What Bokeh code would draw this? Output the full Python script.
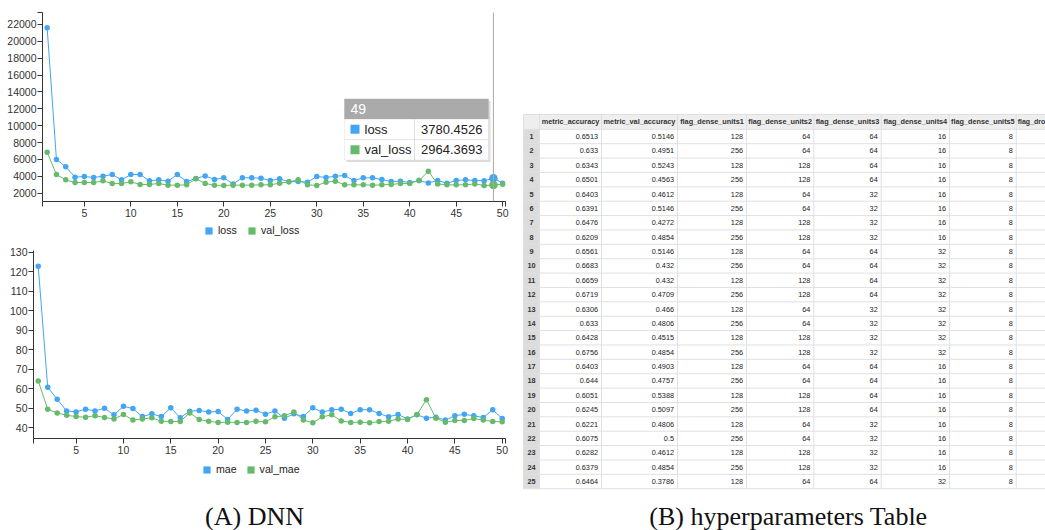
from bokeh.plotting import figure
from bokeh.models import (Range1d, FixedTicker, Legend, LegendItem, Span,
                          BoxAnnotation, Label)
from bokeh.layouts import row, column
from bokeh.embed import file_html
from bokeh.resources import INLINE
from bokeh.core.properties import value

# ---------------- data ----------------
epochs = list(range(1, 51))
loss = [21600, 6000, 5120, 3900, 3975, 3860, 4010, 4210, 3580, 4210,
        4210, 3460, 3580, 3420, 4210, 3380, 3740, 4050, 3620, 3820,
        3100, 3820, 3820, 3780, 3500, 3700, 3350, 3380, 3300, 3975,
        3860, 4010, 4090, 3500, 3820, 3820, 3620, 3380, 3420, 3260,
        3500, 3220, 3500, 3180, 3500, 3580, 3500, 3460, 3780.4526, 3180]
val_loss = [6860, 4210, 3580, 3260, 3260, 3260, 3460, 3150, 3150, 3340,
            3030, 3030, 3150, 2950, 2950, 2990, 3700, 3150, 2950, 2910,
            2950, 2950, 2950, 2990, 2990, 3180, 3340, 3580, 2990, 2910,
            3300, 3420, 2990, 2990, 2990, 2950, 2990, 3030, 3150, 3150,
            3500, 4600, 3100, 2990, 2990, 2990, 3100, 2910, 2964.3693, 3070]
mae = [122.8, 60.7, 54.5, 48.5, 48.0, 49.4, 48.5, 49.9, 46.5, 50.9,
       49.7, 45.6, 47.0, 45.6, 50.1, 45.0, 48.4, 48.7, 48.0, 48.2,
       44.1, 49.4, 48.5, 48.9, 46.8, 48.5, 44.8, 47.0, 45.6, 50.1,
       47.9, 49.1, 49.4, 47.2, 49.1, 49.1, 47.2, 45.5, 46.7, 44.4,
       46.5, 44.8, 45.3, 43.8, 46.0, 46.8, 46.0, 45.1, 49.1, 44.6]
val_mae = [63.9, 49.4, 47.5, 46.3, 45.6, 45.3, 46.1, 45.1, 44.4, 46.7,
           43.9, 44.4, 45.0, 43.2, 43.1, 43.1, 47.5, 44.1, 43.2, 42.6,
           42.7, 42.6, 42.6, 43.2, 42.9, 45.5, 46.0, 47.9, 43.9, 42.4,
           45.5, 46.5, 43.4, 42.6, 42.7, 42.4, 43.1, 43.2, 44.4, 44.1,
           46.7, 54.2, 44.8, 42.7, 43.6, 43.6, 44.6, 43.8, 43.1, 42.9]
loss_ticks = list(range(2000, 22001, 2000))
mae_ticks = list(range(40, 131, 10))
epoch_ticks = list(range(5, 51, 5))
focus_epoch = 49

table_columns = ["metric_accuracy", "metric_val_accuracy", "flag_dense_units1",
                 "flag_dense_units2", "flag_dense_units3", "flag_dense_units4",
                 "flag_dense_units5", "flag_dro"]
row_ids = list(range(1, 26))
metric_accuracy = [0.6513, 0.633, 0.6343, 0.6501, 0.6403, 0.6391, 0.6476, 0.6209,
                   0.6561, 0.6683, 0.6659, 0.6719, 0.6306, 0.633, 0.6428, 0.6756,
                   0.6403, 0.644, 0.6051, 0.6245, 0.6221, 0.6075, 0.6282, 0.6379,
                   0.6464]
metric_val_accuracy = [0.5146, 0.4951, 0.5243, 0.4563, 0.4612, 0.5146, 0.4272, 0.4854,
                       0.5146, 0.432, 0.432, 0.4709, 0.466, 0.4806, 0.4515, 0.4854,
                       0.4903, 0.4757, 0.5388, 0.5097, 0.4806, 0.5, 0.4612, 0.4854,
                       0.3786]
flag_dense_units1 = [128, 256] * 12 + [128]
flag_dense_units2 = [64, 64, 128, 128] * 6 + [64]
flag_dense_units3 = [64, 64, 64, 64, 32, 32, 32, 32] * 3 + [64]
flag_dense_units4 = [16] * 8 + [32] * 8 + [16] * 8 + [32]
flag_dense_units5 = [8] * 25

# ---------------- styles ----------------
BLUE = "#42a5f5"
GREEN = "#66bb6a"
SANS = "Liberation Sans"
SERIF = "Liberation Serif"
TICK_FS = "10.5px"
W_LEFT = 518


def no_align(p):
    try:
        p.frame_align = False
    except Exception:
        pass
    return p


def style_axes(p, xticks, yticks, xr, yr_top=None):
    p.xaxis.ticker = FixedTicker(ticks=[xr[0]] + xticks + [xr[1]])
    p.xaxis.major_label_overrides = {xr[0]: "", xr[1]: ""}
    yt = list(yticks)
    if yr_top is not None:
        yt = yt + [yr_top]
        p.yaxis.major_label_overrides = {yr_top: ""}
    p.yaxis.ticker = FixedTicker(ticks=yt)
    for ax in (p.xaxis[0], p.yaxis[0]):
        ax.axis_line_color = "#333333"
        ax.major_tick_line_color = "#333333"
        ax.minor_tick_line_color = None
        ax.major_tick_in = 0
        ax.major_tick_out = 5
        ax.major_label_text_font = SANS
        ax.major_label_text_font_size = TICK_FS
        ax.major_label_text_color = "#333333"
    p.yaxis.major_label_standoff = 1
    p.xaxis.major_label_standoff = 2


def chart(height, borders, xr, yr, yticks, s1, s2, yr_top=None):
    l, r, t, b = borders
    p = figure(width=W_LEFT, height=height, x_range=Range1d(*xr), y_range=Range1d(*yr),
               output_backend="svg", toolbar_location=None,
               min_border_left=l, min_border_right=r, min_border_top=t,
               min_border_bottom=b)
    no_align(p)
    p.grid.visible = False
    p.outline_line_color = None
    style_axes(p, epoch_ticks, yticks, xr, yr_top)
    p.line(epochs, s1, line_color=BLUE, line_width=1)
    p.scatter(epochs, s1, size=5.5, fill_color=BLUE, line_color=None)
    p.line(epochs, s2, line_color=GREEN, line_width=1)
    p.scatter(epochs, s2, size=5.5, fill_color=GREEN, line_color=None)
    return p


def legend_strip(height, names, loc):
    f = figure(width=W_LEFT, height=height, x_range=Range1d(0, 1), y_range=Range1d(0, 1),
               output_backend="svg", toolbar_location=None, x_axis_type=None,
               y_axis_type=None, min_border=0)
    no_align(f)
    f.outline_line_color = None
    # legend swatch proxies (kept outside the visible range)
    k1 = f.quad(left=[-5], right=[-4], bottom=[-5], top=[-4], fill_color=BLUE,
                line_color=None)
    k2 = f.quad(left=[-5], right=[-4], bottom=[-5], top=[-4], fill_color=GREEN,
                line_color=None)
    leg = Legend(items=[LegendItem(label=names[0], renderers=[k1]),
                        LegendItem(label=names[1], renderers=[k2])],
                 orientation="horizontal", location=loc,
                 border_line_color=None, background_fill_alpha=0,
                 padding=0, margin=0, spacing=9, label_standoff=5,
                 glyph_width=9, glyph_height=9, label_height=11,
                 label_text_font=SANS, label_text_font_size="10.6px",
                 label_text_color="#222222", label_text_baseline="middle")
    f.add_layout(leg, "center")
    return f


# ---- top chart (loss) ----
TX = (0.5, 50.3)
TY = (1012, 23420)
top = chart(222, (42, 13, 12, 21), TX, TY, loss_ticks, loss, val_loss, yr_top=TY[1])
top_leg = legend_strip(18, ["loss", "val_loss"], (204, 4))

fi = epochs.index(focus_epoch)
top.add_layout(Span(location=epochs[fi], dimension="height",
                    line_color="#aaaaaa", line_width=1))
top.scatter([epochs[fi]], [loss[fi]], size=8.5, fill_color=BLUE, line_color=None)
top.scatter([epochs[fi]], [val_loss[fi]], size=8.5, fill_color=GREEN, line_color=None)

# tooltip (positioned in frame pixels of the top chart)
FL, FR, FT, FB = 42, 505, 12, 201


def tx(px):
    return TX[0] + (px - FL) * (TX[1] - TX[0]) / (FR - FL)


def ty(py):
    return TY[1] - (py - FT) * (TY[1] - TY[0]) / (FB - FT)


TL, TRt, TT, TH, TR1, TBm = 344, 488, 98.5, 118.5, 139, 159.5
top.add_layout(BoxAnnotation(left=tx(TL + 2), right=tx(TRt + 2), top=ty(TT + 2),
                             bottom=ty(TBm + 2), fill_color="#bbbbbb", fill_alpha=0.5,
                             line_color=None))
top.add_layout(BoxAnnotation(left=tx(TL), right=tx(TRt), top=ty(TT), bottom=ty(TBm),
                             fill_color="white", fill_alpha=1, line_color="#cccccc",
                             line_width=1))
top.add_layout(BoxAnnotation(left=tx(TL), right=tx(TRt), top=ty(TT), bottom=ty(TH),
                             fill_color="#aaaaaa", fill_alpha=1, line_color="#aaaaaa"))
top.add_layout(BoxAnnotation(left=tx(TL), right=tx(TRt), top=ty(TR1), bottom=ty(TR1),
                             fill_alpha=0, line_color="#cccccc", line_width=1))
top.add_layout(BoxAnnotation(left=tx(414), right=tx(414), top=ty(TH), bottom=ty(TBm),
                             fill_alpha=0, line_color="#999999", line_width=1,
                             line_dash="1 1"))
row_centers = [(TH + TR1) / 2, (TR1 + TBm) / 2]
for rc, col in zip(row_centers, [BLUE, GREEN]):
    top.add_layout(BoxAnnotation(left=tx(350), right=tx(359), top=ty(rc - 4.5),
                                 bottom=ty(rc + 4.5), fill_color=col, fill_alpha=1,
                                 line_color=None))
top.add_layout(Label(x=tx(350), y=ty((TT + TH) / 2), text=str(epochs[fi]),
                     text_color="white", text_font=SANS, text_font_size="14px",
                     text_baseline="middle", text_align="left"))
for rc, nm, v in zip(row_centers, ["loss", "val_loss"], [loss[fi], val_loss[fi]]):
    top.add_layout(Label(x=tx(364), y=ty(rc), text=nm, text_color="#222222",
                         text_font=SANS, text_font_size="13px",
                         text_baseline="middle", text_align="left"))
    top.add_layout(Label(x=tx(482), y=ty(rc), text=f"{v:.4f}", text_color="#222222",
                         text_font=SANS, text_font_size="13px",
                         text_baseline="middle", text_align="right"))

# ---- bottom chart (mae) ----
BX = (0.5, 50.35)
BY = (34.36, 130.85)
bot = chart(220, (33, 13, 10, 22), BX, BY, mae_ticks, mae, val_mae)
bot_leg = legend_strip(18, ["mae", "val_mae"], (202, 3))

# ---- caption A ----
CAP_Y = 516
capA = figure(width=W_LEFT, height=52, x_range=Range1d(0, W_LEFT), y_range=Range1d(530, 478),
              output_backend="svg", toolbar_location=None, x_axis_type=None,
              y_axis_type=None, min_border=0)
no_align(capA)
capA.outline_line_color = None
capA.text(x=[254], y=[CAP_Y], text=["(A) DNN"], text_align="center",
          text_baseline="middle", text_font=value(SERIF), text_font_size="26px",
          text_color="#111111")

# ---- table (B) ----
tab = figure(width=527, height=530, x_range=Range1d(518, 1045), y_range=Range1d(530, 0),
             output_backend="svg", toolbar_location=None, x_axis_type=None,
             y_axis_type=None, min_border=0)
no_align(tab)
tab.outline_line_color = None
col_edges = [523, 539, 601, 677, 746, 813.3, 880.7, 949, 1015.7, 1090]
HEAD_TOP, HEAD_Y, ROW1_Y, ROW_H = 114, 121, 136, 14.375
row_y = [ROW1_Y + (r - 1) * ROW_H for r in row_ids]
row_top = [y - ROW_H / 2 for y in row_y]
table_bottom = row_y[-1] + ROW_H / 2

tab.quad(left=[col_edges[0]], right=[col_edges[-1]], top=[HEAD_TOP], bottom=[row_top[0]],
         fill_color="#eeeeee", line_color=None)
tab.quad(left=[col_edges[0]], right=[col_edges[1]], top=[row_top[0]], bottom=[table_bottom],
         fill_color="#dcdcdc", line_color=None)
hy = [HEAD_TOP] + row_top + [table_bottom]
tab.segment(x0=[col_edges[0]] * len(hy), x1=[col_edges[-1]] * len(hy), y0=hy, y1=hy,
            line_color="#e0e0e0", line_width=1)
tab.segment(x0=col_edges, x1=col_edges, y0=[HEAD_TOP] * len(col_edges),
            y1=[table_bottom] * len(col_edges), line_color="#e0e0e0", line_width=1)

TFS = "7.3px"
centers = [(col_edges[i + 1] + col_edges[i + 2]) / 2 for i in range(len(table_columns) - 1)]
tab.text(x=centers, y=[HEAD_Y] * len(centers), text=table_columns[:-1],
         text_align="center", text_baseline="middle", text_font=value(SANS),
         text_font_style="bold", text_font_size=TFS, text_color="#333333")
tab.text(x=[col_edges[-2] + 1.5], y=[HEAD_Y], text=[table_columns[-1]],
         text_align="left", text_baseline="middle", text_font=value(SANS),
         text_font_style="bold", text_font_size="7px", text_color="#333333")
tab.text(x=[(col_edges[0] + col_edges[1]) / 2] * len(row_ids), y=row_y,
         text=[str(r) for r in row_ids], text_align="center", text_baseline="middle",
         text_font=value(SANS), text_font_style="bold", text_font_size=TFS,
         text_color="#333333")
cols = [metric_accuracy, metric_val_accuracy, flag_dense_units1, flag_dense_units2,
        flag_dense_units3, flag_dense_units4, flag_dense_units5]
for j, c in enumerate(cols):
    tab.text(x=[col_edges[j + 2] - 3.5] * len(c), y=row_y, text=[str(v) for v in c],
             text_align="right", text_baseline="middle", text_font=value(SANS),
             text_font_size=TFS, text_color="#222222")

tab.text(x=[788], y=[CAP_Y], text=["(B) hyperparameters Table"], text_align="center",
         text_baseline="middle", text_font=value(SERIF), text_font_size="26px",
         text_color="#111111")

layout = row(column(top, top_leg, bot, bot_leg, capA, spacing=0), tab, spacing=0)
open("out.html", "w").write(file_html(layout, INLINE))
